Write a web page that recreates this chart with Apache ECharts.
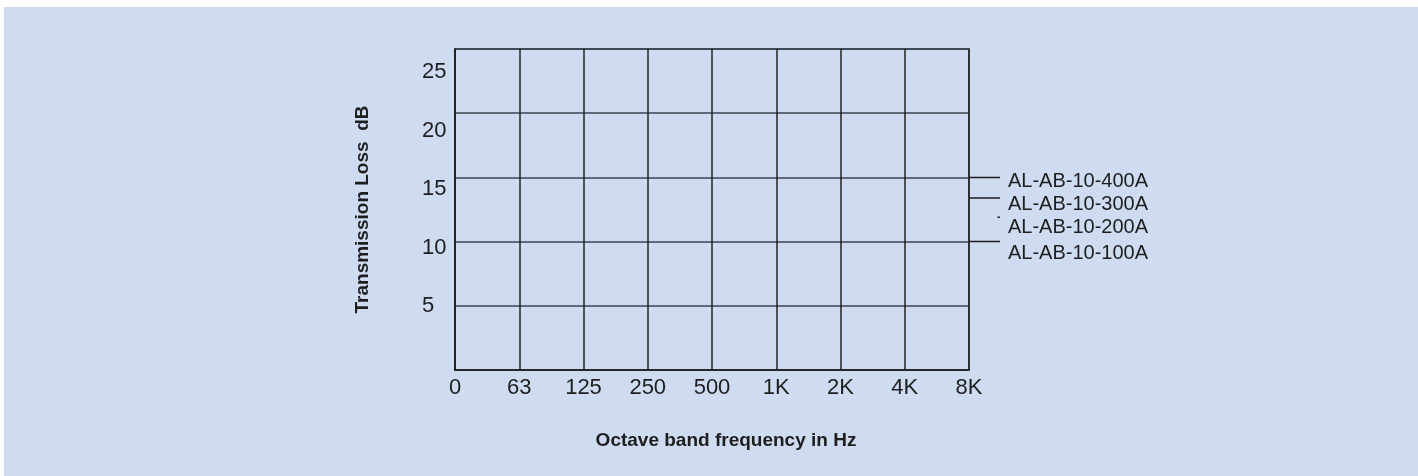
<!DOCTYPE html>
<html>
<head>
<meta charset="utf-8">
<script src="https://cdn.jsdelivr.net/npm/echarts@6/dist/echarts.min.js"></script>
<style>
  html, body { margin: 0; padding: 0; background: #fff; }
  #bg { position: absolute; left: 4px; top: 7px; right: 0; bottom: 0; background: #cedbf1; }
  #main { position: absolute; left: 0; top: 0; width: 1418px; height: 476px; }
</style>
</head>
<body>
<div id="bg"></div>
<div id="main"></div>
<script>
  // frequency bands on the x axis
  const freqBands = ['0', '63', '125', '250', '500', '1K', '2K', '4K', '8K'];
  // y tick labels (dB)
  const dbTicks = [5, 10, 15, 20, 25];
  // legend callouts on the right of the grid
  const modelNames = ['AL-AB-10-400A', 'AL-AB-10-300A', 'AL-AB-10-200A', 'AL-AB-10-100A'];
  const calloutLevel = [15, 13.4, 11.9, 10];   // dB where each leader sits
  const calloutFrom = [0, 0, 0.92, 0];         // 0 = grid edge, 1 = leader end

  const FONT = '"Liberation Sans", Arial, sans-serif';
  const labelShift = [4, 7, 10, 12]; // text sits a bit below its leader

  const chart = echarts.init(document.getElementById('main'));

  const series = modelNames.map((name, i) => ({
    name: name,
    type: 'line',
    xAxisIndex: 1,
    yAxisIndex: 2,
    silent: true,
    symbol: 'none',
    lineStyle: { color: '#1e1e1e', width: 1.5 },
    data: [[calloutFrom[i], calloutLevel[i]], [1, calloutLevel[i]]],
    endLabel: {
      show: true,
      formatter: '{a}',
      distance: 8,
      offset: [0, labelShift[i]],
      color: '#1e1e1e',
      fontSize: 20,
      fontFamily: FONT
    }
  }));

  const option = {
    animation: false,
    backgroundColor: 'transparent',
    textStyle: { fontFamily: FONT },
    grid: [
      {
        left: 455, top: 49, right: 449, bottom: 106,
        show: true,
        borderColor: '#555c68',
        borderWidth: 2
      },
      // narrow strip right of the chart that holds the callout leaders
      { left: 969, top: 49, right: 418, bottom: 106 }
    ],
    xAxis: [
      {
        type: 'category',
        gridIndex: 0,
        data: freqBands,
        boundaryGap: false,
        name: 'Octave band frequency in Hz',
        nameLocation: 'middle',
        nameGap: 61,
        nameTextStyle: { fontSize: 19, fontWeight: 'bold', color: '#1e1e1e', padding: [0, 0, 0, 28] },
        axisLine: { lineStyle: { color: '#1e1e1e', width: 1.5 } },
        axisTick: { show: false },
        axisLabel: { interval: 0, margin: 7, fontSize: 22, color: '#1e1e1e' },
        splitLine: { show: true, interval: 0, lineStyle: { color: '#222', width: 1.5 } }
      },
      { type: 'value', gridIndex: 1, min: 0, max: 1, show: false }
    ],
    yAxis: [
      {
        type: 'value',
        gridIndex: 0,
        min: 0,
        max: 25,
        interval: 5,
        name: 'Transmission Loss  dB',
        nameLocation: 'middle',
        nameGap: 83,
        nameTextStyle: { fontSize: 19, fontWeight: 'bold', color: '#1e1e1e' },
        axisLine: { show: true, lineStyle: { color: '#1e1e1e', width: 1.5 } },
        axisTick: { show: false },
        axisLabel: { show: false },
        splitLine: { show: true, lineStyle: { color: '#3c4350', width: 1.5 } }
      },
      {
        // labels in the scan sit slightly off the grid lines, so they get their own scale
        type: 'value',
        gridIndex: 0,
        position: 'left',
        min: -0.47,
        max: 26.97,
        axisLine: { show: false },
        axisTick: { show: false },
        splitLine: { show: false },
        axisLabel: {
          customValues: dbTicks,
          align: 'left',
          margin: 33,
          fontSize: 22,
          color: '#1e1e1e'
        }
      },
      { type: 'value', gridIndex: 1, min: 0, max: 25, show: false }
    ],
    series: series
  };

  chart.setOption(option);
</script>
</body>
</html>
